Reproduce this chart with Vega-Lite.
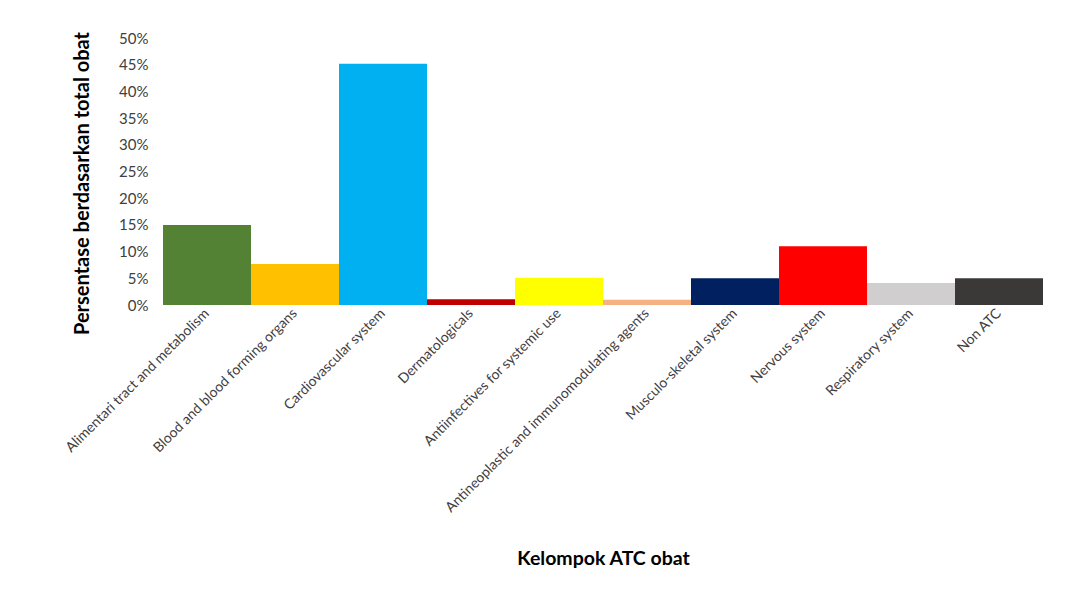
{
  "$schema": "https://vega.github.io/schema/vega-lite/v6.json",
  "width": 880,
  "height": 267,
  "autosize": {"type": "none"},
  "padding": {"left": 163, "top": 38, "right": 32, "bottom": 290},
  "background": "white",
  "config": {
    "view": {"stroke": null},
    "font": "Lato"
  },
  "data": {
    "values": [
      {"kelompok": "Alimentari tract and metabolism", "persen": 0.15},
      {"kelompok": "Blood and blood forming organs", "persen": 0.077},
      {"kelompok": "Cardiovascular system", "persen": 0.452},
      {"kelompok": "Dermatologicals", "persen": 0.011},
      {"kelompok": "Antiinfectives for systemic use", "persen": 0.051},
      {"kelompok": "Antineoplastic and immunomodulating agents", "persen": 0.01},
      {"kelompok": "Musculo-skeletal system", "persen": 0.05},
      {"kelompok": "Nervous system", "persen": 0.11},
      {"kelompok": "Respiratory system", "persen": 0.041},
      {"kelompok": "Non ATC", "persen": 0.05}
    ]
  },
  "mark": {"type": "bar"},
  "encoding": {
    "x": {
      "field": "kelompok",
      "type": "nominal",
      "sort": null,
      "scale": {"paddingInner": 0, "paddingOuter": 0},
      "axis": {
        "title": "Kelompok ATC obat",
        "titleFont": "Lato",
        "titleFontSize": 19.5,
        "titleFontWeight": "bold",
        "titleColor": "#000000",
        "titleY": 253,
        "titleBaseline": "middle",
        "labelAngle": -45,
        "labelAlign": "right",
        "labelBaseline": "middle",
        "labelFontSize": 14,
        "labelColor": "#404040",
        "labelPadding": 6,
        "labelLimit": 400,
        "labelOverlap": false,
        "ticks": false,
        "domain": false
      }
    },
    "y": {
      "field": "persen",
      "type": "quantitative",
      "scale": {"domain": [0, 0.5]},
      "axis": {
        "title": "Persentase berdasarkan total obat",
        "titleFont": "Lato",
        "titleFontSize": 20,
        "titleFontWeight": "bold",
        "titleColor": "#000000",
        "titleX": -71,
        "titleY": 145,
        "titleAngle": -90,
        "titleBaseline": "bottom",
        "titleAlign": "center",
        "format": ".0%",
        "values": [0, 0.05, 0.1, 0.15, 0.2, 0.25, 0.3, 0.35, 0.4, 0.45, 0.5],
        "labelOverlap": false,
        "labelFontSize": 15,
        "labelColor": "#404040",
        "labelPadding": 15,
        "ticks": false,
        "domain": false,
        "grid": false
      }
    },
    "color": {
      "field": "kelompok",
      "type": "nominal",
      "sort": null,
      "legend": null,
      "scale": {
        "domain": ["Alimentari tract and metabolism", "Blood and blood forming organs", "Cardiovascular system", "Dermatologicals", "Antiinfectives for systemic use", "Antineoplastic and immunomodulating agents", "Musculo-skeletal system", "Nervous system", "Respiratory system", "Non ATC"],
        "range": ["#548235", "#FFC000", "#00B0F0", "#C00000", "#FFFF00", "#F4B183", "#002060", "#FF0000", "#D0CECE", "#3B3838"]
      }
    }
  }
}
